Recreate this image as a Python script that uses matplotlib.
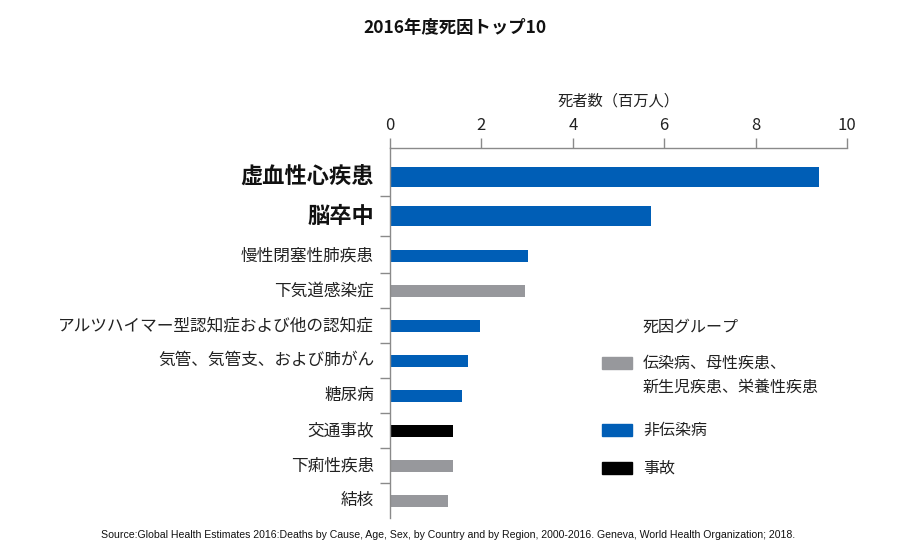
import matplotlib.pyplot as plt
from matplotlib.patches import Rectangle

plt.rcParams['font.family'] = ['Noto Sans CJK JP', 'DejaVu Sans']

# data
causes = ['虚血性心疾患', '脳卒中', '慢性閉塞性肺疾患', '下気道感染症',
          'アルツハイマー型認知症および他の認知症', '気管、気管支、および肺がん',
          '糖尿病', '交通事故', '下痢性疾患', '結核']
deaths = [9.39, 5.72, 3.03, 2.95, 1.97, 1.70, 1.57, 1.38, 1.38, 1.27]
groups = ['non', 'non', 'non', 'comm', 'non', 'non', 'non', 'inj', 'comm', 'comm']
xticks = [0, 2, 4, 6, 8, 10]

group_colors = {'comm': '#97989c', 'non': '#005eb6', 'inj': '#000000'}
group_labels = {'comm': '伝染病、母性疾患、\n新生児疾患、栄養性疾患',
                'non': '非伝染病', 'inj': '事故'}

n_bold = 2
W, H = 910, 545
fig = plt.figure(figsize=(W / 100, H / 100), dpi=100)
ax = fig.add_axes([390 / W, 1 - 518 / H, 457 / W, 370 / H])

# the two top rows are a bit taller than the rest
pos = [i + 0.13 * min(i, n_bold) for i in range(len(causes))]
heights = [0.57 if i < n_bold else 0.34 for i in range(len(causes))]
ax.barh(pos, deaths, height=heights,
        color=[group_colors[g] for g in groups], zorder=2)

ax.set_ylim(9.75, -0.82)
ax.set_xlim(0, 10)

# axis on top
ax.xaxis.tick_top()
ax.xaxis.set_label_position('top')
ax.set_xticks(xticks)
ax.set_xticklabels([str(t) for t in xticks], fontsize=12, color='#222222')
ax.set_xlabel('死者数（百万人）', fontsize=11, color='#222222', labelpad=8)
ax.tick_params(axis='x', length=7, width=1, color='#8a8a8a', pad=3)

# left ticks sit between the rows
mids = [(pos[i] + pos[i + 1]) / 2 for i in range(len(pos) - 1)]
ax.set_yticks(mids)
ax.set_yticklabels([])
ax.tick_params(axis='y', length=7, width=1, color='#8a8a8a')

for s in ['right', 'bottom']:
    ax.spines[s].set_visible(False)
for s in ['top', 'left']:
    ax.spines[s].set_color('#8a8a8a')
    ax.spines[s].set_linewidth(1)

# category labels
for i, (p, c) in enumerate(zip(pos, causes)):
    if i < n_bold:
        ax.text(-0.35, p, c, ha='right', va='center', fontsize=16,
                fontweight='bold', color='#111111')
    else:
        ax.text(-0.35, p, c, ha='right', va='center', fontsize=12,
                color='#222222')

fig.text(455 / W, 1 - 28 / H, '2016年度死因トップ10', ha='center', va='center',
         fontsize=12.5, fontweight='bold', color='#111111')

# legend
fig.text(643 / W, 1 - 327 / H, '死因グループ', ha='left', va='center',
         fontsize=11.5, color='#222222')
leg_y = {'comm': 363, 'non': 430, 'inj': 468}
for g in ['comm', 'non', 'inj']:
    y = leg_y[g]
    fig.add_artist(Rectangle((602 / W, 1 - (y + 6) / H), 30 / W, 12 / H,
                             color=group_colors[g], transform=fig.transFigure))
    if '\n' in group_labels[g]:
        l1, l2 = group_labels[g].split('\n')
        fig.text(643 / W, 1 - y / H, l1, ha='left', va='center',
                 fontsize=11.5, color='#222222')
        fig.text(643 / W, 1 - (y + 24) / H, l2, ha='left', va='center',
                 fontsize=11.5, color='#222222')
    else:
        fig.text(643 / W, 1 - y / H, group_labels[g], ha='left', va='center',
                 fontsize=11.5, color='#222222')

fig.text(448 / W, 1 - 535 / H,
         'Source:Global Health Estimates 2016:Deaths by Cause, Age, Sex, by Country and by Region, '
         '2000-2016. Geneva, World Health Organization; 2018.',
         ha='center', va='center', fontsize=7.6, color='#111111',
         family=['Liberation Sans Narrow', 'Liberation Sans', 'DejaVu Sans'])

fig.savefig('out.png', dpi=100)
